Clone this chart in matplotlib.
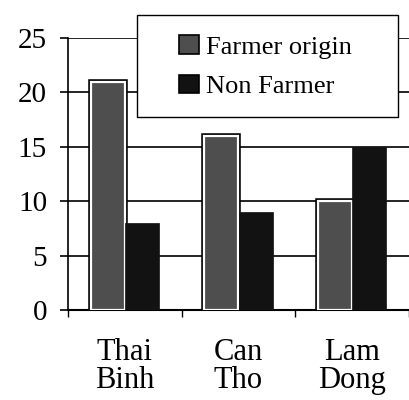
import numpy as np
import matplotlib
matplotlib.use('Agg')
import matplotlib.pyplot as plt
import matplotlib.patheffects as pe
from matplotlib.patches import Rectangle

# data
regions = ['Thai\nBinh', 'Can\nTho', 'Lam\nDong']
farmer_origin = [21, 16, 10]
non_farmer = [8, 9, 15]
series_names = ['Farmer origin', 'Non Farmer']
y_ticks = [0, 5, 10, 15, 20, 25]

plt.rcParams['font.family'] = ['Liberation Serif', 'DejaVu Serif']

fig = plt.figure(figsize=(4.09, 4.0), dpi=100)
ax = fig.add_axes([68 / 409, 0.225, 1 - 68 / 409, 0.68])

x = np.arange(len(regions))
width = 0.30
b1 = ax.bar(x - width / 2, farmer_origin, width, color='#4e4e4e',
            edgecolor='white', linewidth=1.6, zorder=3, label=series_names[0])
for p in b1:
    p.set_path_effects([pe.Stroke(linewidth=4.0, foreground='black'), pe.Normal()])
b2 = ax.bar(x + width / 2, non_farmer, width, color='#121212',
            edgecolor='#121212', linewidth=0.5, zorder=3, label=series_names[1])

ax.set_xlim(-0.5, 2.41)
ax.set_ylim(0, 25)
ax.set_yticks(y_ticks)
ax.yaxis.grid(True, color='black', linewidth=1.2, zorder=0)
ax.set_axisbelow(True)

# category boundaries carry the ticks, centres carry the labels
ax.set_xticks(np.arange(len(regions) + 1) - 0.5)
ax.set_xticklabels([])
ax.set_xticks(x, minor=True)
ax.set_xticklabels(regions, minor=True, fontsize=22, linespacing=0.95)
ax.tick_params(axis='x', which='major', length=5, width=1, direction='out')
ax.tick_params(axis='x', which='minor', length=0, pad=20)
ax.tick_params(axis='y', labelsize=21, length=6, width=1.2, pad=9)

for s in ['top', 'right']:
    ax.spines[s].set_visible(False)
ax.spines['left'].set_linewidth(1.2)
ax.spines['bottom'].set_linewidth(1.5)

# legend box
fig.patches.append(Rectangle((137 / 409, 1 - 117 / 400), 261 / 409, 102 / 400,
                             transform=fig.transFigure, facecolor='white',
                             edgecolor='black', linewidth=1.0, zorder=5))
leg = fig.legend(handles=[b1, b2], labels=series_names, loc='upper left',
                 bbox_to_anchor=(166 / 409, 1 - 22 / 400), frameon=False,
                 fontsize=19, borderpad=0, handlelength=0.75, handleheight=0.7,
                 handletextpad=0.25, labelspacing=0.6)
leg.set_zorder(6)
for h in leg.legend_handles:
    h.set_path_effects([])
    h.set_edgecolor('black')
    h.set_linewidth(1.2)

fig.savefig('out.png', dpi=100)
